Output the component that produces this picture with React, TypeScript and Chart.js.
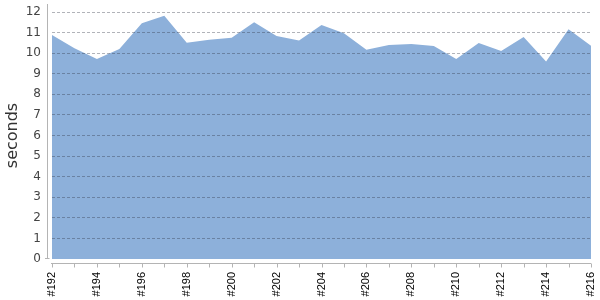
import React, { useEffect, useRef } from "react";
import { Chart, registerables } from "chart.js";

Chart.register(...registerables);

const builds = [
  "#192", "#193", "#194", "#195", "#196", "#197", "#198", "#199", "#200",
  "#201", "#202", "#203", "#204", "#205", "#206", "#207", "#208", "#209",
  "#210", "#211", "#212", "#213", "#214", "#215", "#216",
];
const durations = [
  10.88, 10.24, 9.72, 10.2, 11.45, 11.82, 10.51, 10.65, 10.75,
  11.5, 10.84, 10.61, 11.37, 10.97, 10.16, 10.4, 10.45, 10.35,
  9.72, 10.5, 10.1, 10.79, 9.59, 11.16, 10.36,
];
const yTicks = [0, 1, 2, 3, 4, 5, 6, 7, 8, 9, 10, 11, 12];

const axisPlugin = {
  id: "offsetAxes",
  afterDraw(chart: any) {
    const { ctx, chartArea, scales } = chart;
    const xs = scales.x;
    ctx.save();
    ctx.strokeStyle = "#b4b4b4";
    ctx.lineWidth = 1;
    ctx.beginPath();
    const yx = Math.round(chartArea.left) - 4.5;
    ctx.moveTo(yx, 4);
    ctx.lineTo(yx, Math.round(chartArea.bottom));
    // zero tick
    ctx.moveTo(yx - 2.5, Math.round(chartArea.bottom) - 0.5);
    ctx.lineTo(yx + 2, Math.round(chartArea.bottom) - 0.5);
    const xy = Math.round(chartArea.bottom) + 4.5;
    ctx.moveTo(Math.round(chartArea.left) - 1, xy);
    ctx.lineTo(Math.round(chartArea.right), xy);
    for (let i = 0; i < builds.length; i++) {
      const px = Math.round(xs.getPixelForValue(i)) + 0.5;
      ctx.moveTo(px, xy);
      ctx.lineTo(px, xy + 4);
    }
    ctx.stroke();
    ctx.restore();
  },
};

export default function App() {
  const ref = useRef<HTMLCanvasElement | null>(null);
  useEffect(() => {
    if (!ref.current) return;
    const chart = new Chart(ref.current, {
      type: "line",
      data: {
        labels: builds,
        datasets: [
          {
            label: "seconds",
            data: durations,
            fill: "origin",
            backgroundColor: "#8db0da",
            borderColor: "#8db0da",
            borderWidth: 0,
            pointRadius: 0,
            tension: 0,
          },
        ],
      },
      options: {
        animation: false,
        responsive: false,
        maintainAspectRatio: false,
        layout: { padding: { top: 12, right: 9, left: 0, bottom: 0 } },
        plugins: { legend: { display: false }, tooltip: { enabled: false } },
        scales: {
          x: {
            type: "category",
            offset: false,
            grid: { display: false, drawTicks: false },
            border: { display: false },
            ticks: {
              autoSkip: false,
              minRotation: 90,
              maxRotation: 90,
              padding: 13,
              color: "#000",
              font: { family: "Liberation Sans", size: 11 },
              callback: function (this: any, val: any, index: number) {
                return index % 2 === 0 ? builds[index] : "";
              },
            },
            afterFit: (s: any) => {
              s.height = 41;
              s.paddingLeft = 0;
              s.paddingRight = 0;
            },
          },
          y: {
            min: 0,
            max: 12,
            afterBuildTicks: (s: any) => {
              s.ticks = yTicks.map((v) => ({ value: v }));
            },
            grid: {
              z: 1,
              color: (c: any) => (c.tick && c.tick.value === 0 ? "rgba(0,0,0,0)" : "rgba(50,55,70,0.38)"),
              drawTicks: false,
            },
            border: { display: false, dash: [3, 2] },
            ticks: {
              padding: 11,
              color: "#444",
              font: { family: "DejaVu Sans", size: 12 },
            },
            title: {
              display: true,
              text: "seconds",
              color: "#333",
              font: { family: "DejaVu Sans", size: 16 },
              padding: { top: 3, bottom: 0 },
            },
            afterFit: (s: any) => {
              s.width = 52;
              s.paddingTop = 0;
              s.paddingBottom = 0;
            },
          },
        },
      },
      plugins: [axisPlugin],
    });
    return () => chart.destroy();
  }, []);
  return (
    <div style={{ position: "absolute", left: 0, top: 0, width: 600, height: 300 }}>
      <canvas ref={ref} width={600} height={300} />
    </div>
  );
}
